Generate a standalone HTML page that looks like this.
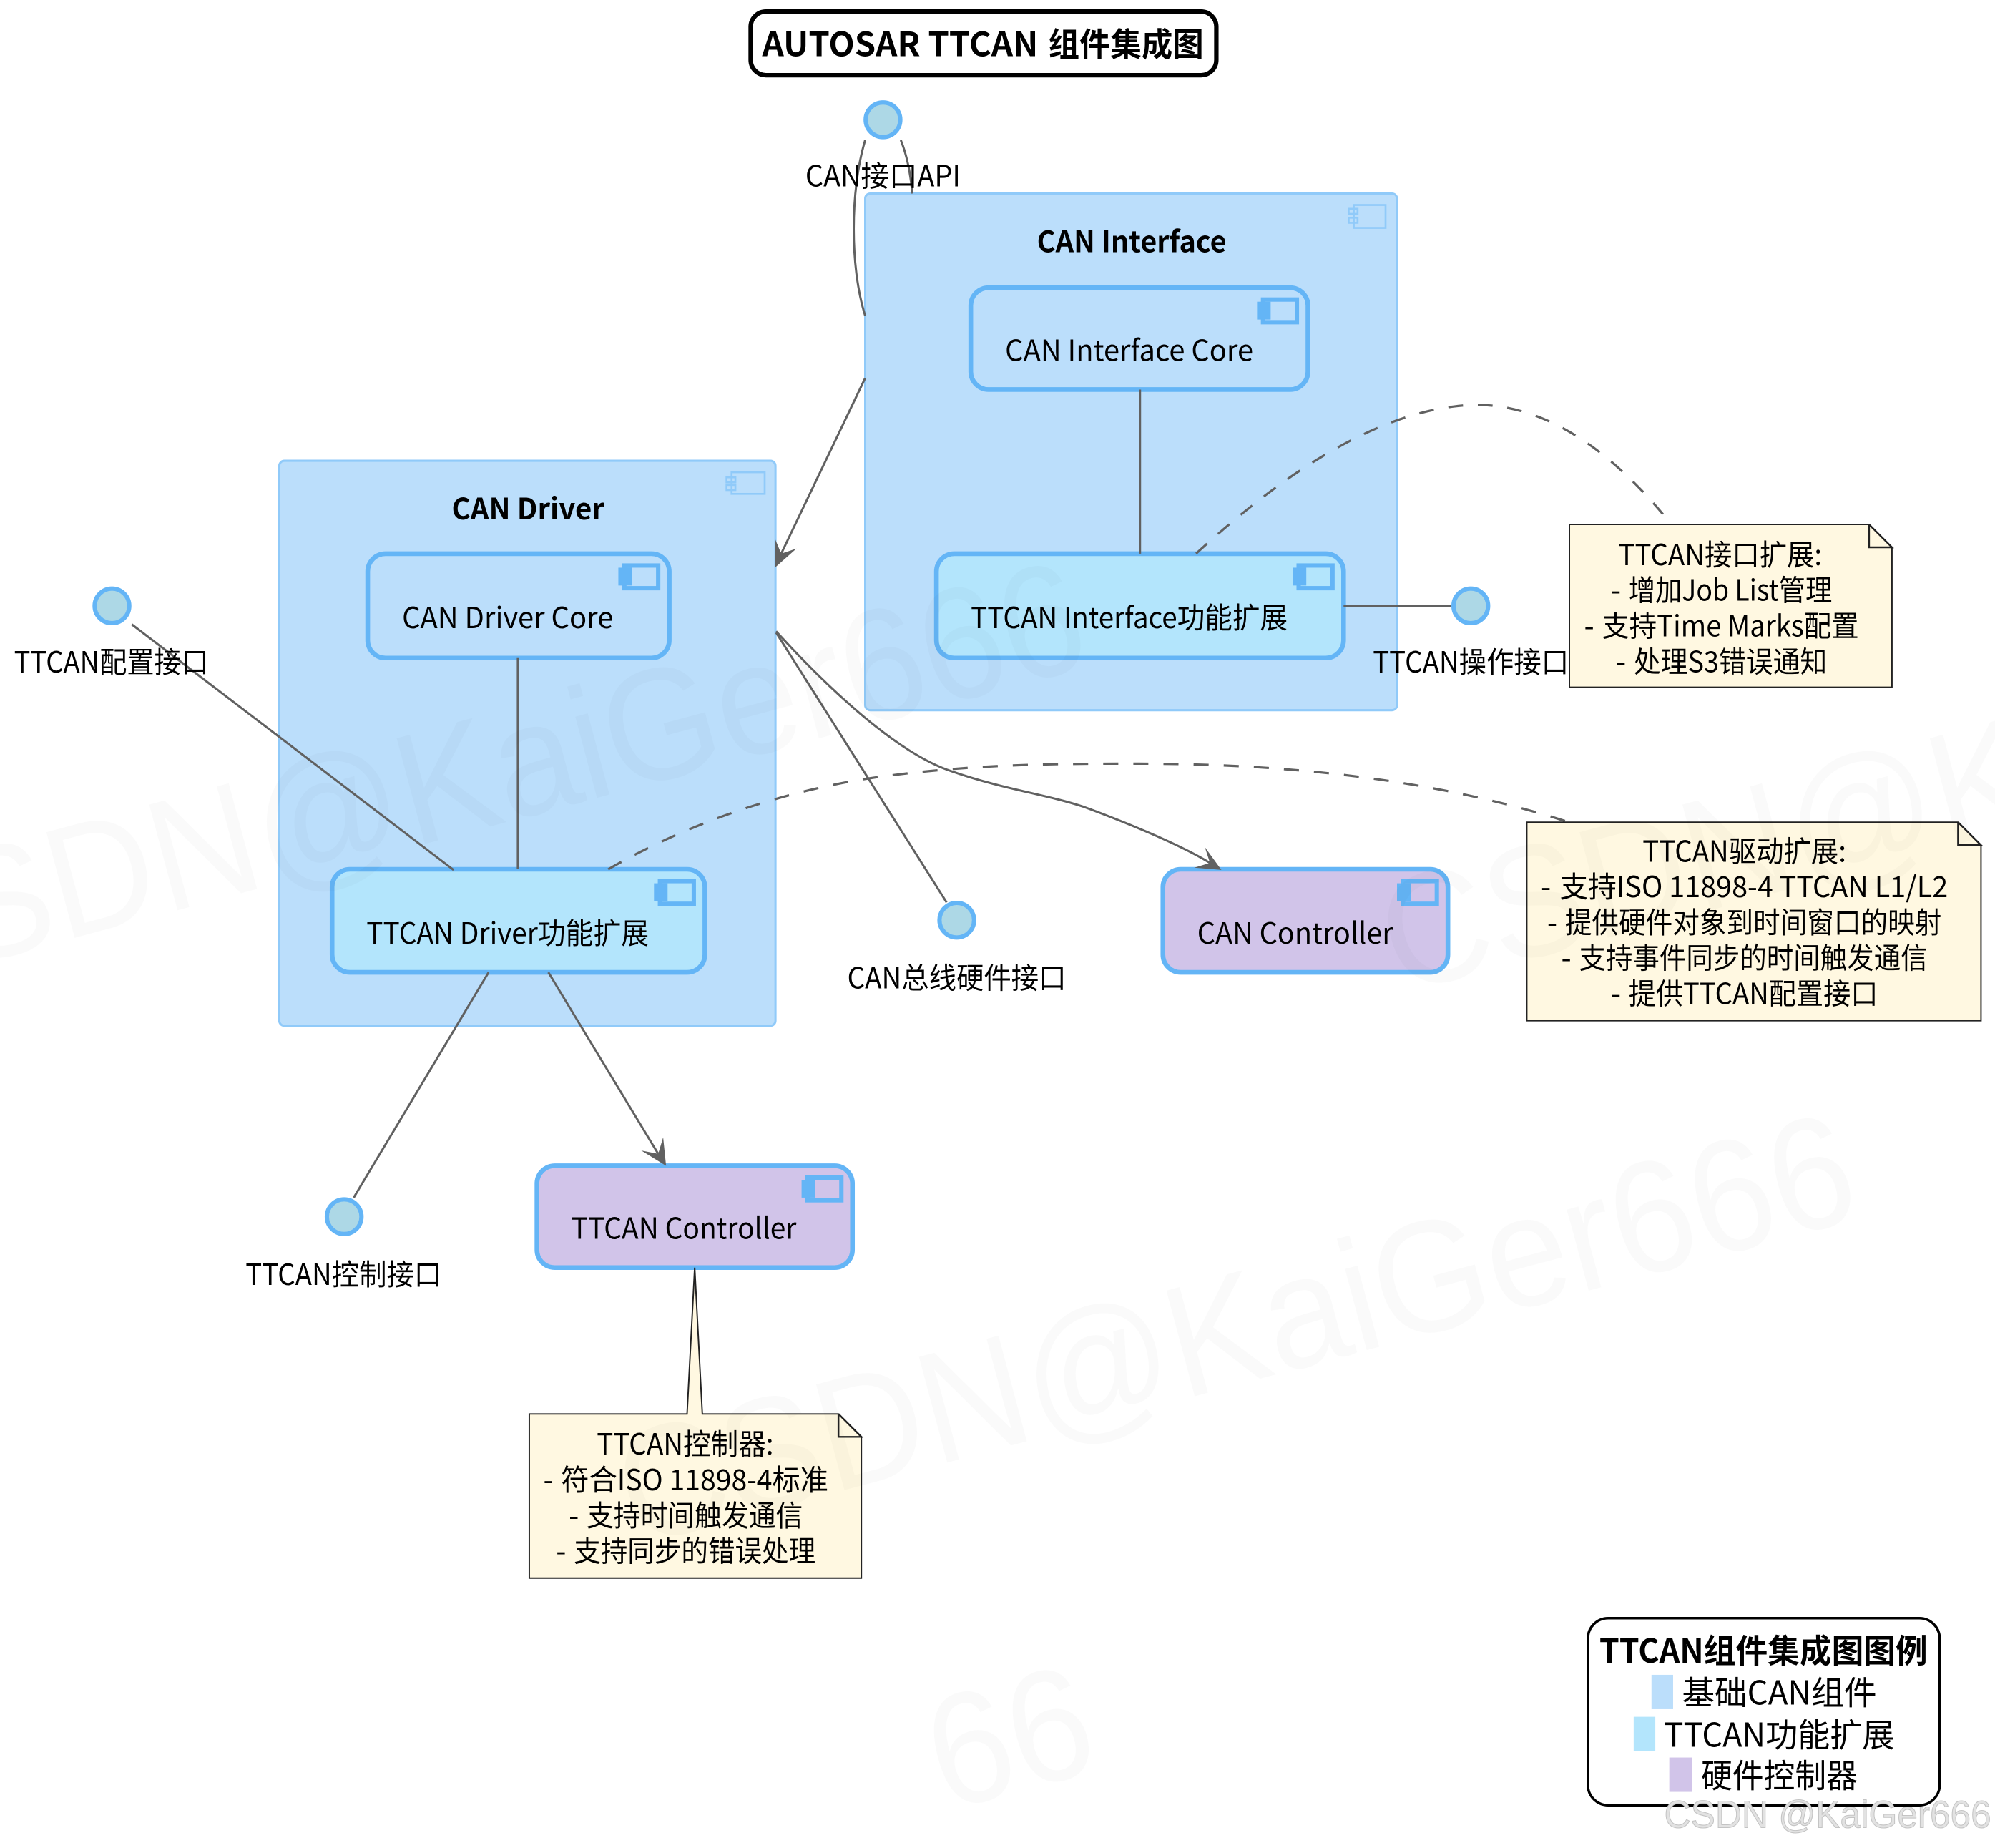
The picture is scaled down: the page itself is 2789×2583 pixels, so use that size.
<!DOCTYPE html>
<html><head><meta charset="utf-8"><style>
html,body{margin:0;padding:0;background:#fff;width:2789px;height:2583px;overflow:hidden}
svg{display:block}
text{font-family:"Noto Sans CJK SC","Liberation Sans",sans-serif;fill:#000;font-size:23px}
.b{font-weight:700}
.l{fill:none;stroke:#616161;stroke-width:1.7}
.d{fill:none;stroke:#616161;stroke-width:1.8;stroke-dasharray:12 12}
.h{fill:#616161;stroke:none}
.c{fill:#bbdefb;stroke:#90caf9;stroke-width:1.7}
.n{stroke:#64b5f6;stroke-width:3.7}
.i{fill:#add8e6;stroke:#64b5f6;stroke-width:3.4}
.t{fill:#fff8e1;stroke:#222;stroke-width:1.1}
.f{fill:none;stroke:#222;stroke-width:1.4}
.w{font-family:"Liberation Sans",sans-serif;font-size:125px;fill:#000;fill-opacity:.018}
</style></head><body>
<svg xmlns="http://www.w3.org/2000/svg" width="2789" height="2583" viewBox="0 0 1568 1452">
<rect width="1568" height="1452" fill="#fff"/>

<!-- clusters -->
<rect class="c" x="680" y="152" width="418" height="406" rx="4"/>
<g fill="none" stroke="#90caf9" stroke-width="1.5"><rect x="1064" y="161" width="25" height="18"/><rect x="1060" y="164" width="7" height="4"/><rect x="1060" y="171" width="7" height="4"/></g>
<text class="b" x="815" y="198" textLength="149" lengthAdjust="spacingAndGlyphs">CAN Interface</text>

<rect class="c" x="219.500" y="362" width="390" height="444" rx="4"/>
<g fill="none" stroke="#90caf9" stroke-width="1.5"><rect x="575" y="371" width="26" height="17"/><rect x="571" y="375" width="7" height="4"/><rect x="571" y="381" width="7" height="4"/></g>
<text class="b" x="355" y="408" textLength="120" lengthAdjust="spacingAndGlyphs">CAN Driver</text>

<!-- nodes -->
<rect class="n" fill="#bbdefb" x="763" y="226" width="265" height="80" rx="14"/>
<rect class="n" fill="#b3e5fc" x="736" y="435" width="320" height="82" rx="14"/>
<rect class="n" fill="#bbdefb" x="289" y="435" width="237" height="82" rx="14"/>
<rect class="n" fill="#b3e5fc" x="261" y="683" width="293" height="81" rx="14"/>
<rect class="n" fill="#d1c4e9" x="914" y="683" width="224" height="81" rx="14"/>
<rect class="n" fill="#d1c4e9" x="422" y="916" width="248" height="80" rx="14"/>

<!-- node icons -->
<g fill="none" stroke="#64b5f6" stroke-width="3.4">
<rect x="992.700" y="235.300" width="26.600" height="17.800"/>
<rect x="1020.700" y="444.300" width="26.600" height="17.800"/>
<rect x="490.700" y="444.300" width="26.600" height="17.800"/>
<rect x="518.700" y="692.300" width="26.600" height="17.800"/>
<rect x="1102.700" y="692.300" width="26.600" height="17.800"/>
<rect x="634.700" y="925.300" width="26.600" height="17.800"/>
</g>
<g fill="#64b5f6">
<rect x="988" y="237" width="10.700" height="14"/>
<rect x="1016" y="446" width="10.700" height="14"/>
<rect x="486" y="446" width="10.700" height="14"/>
<rect x="514" y="694" width="10.700" height="14"/>
<rect x="1098" y="694" width="10.700" height="14"/>
<rect x="630" y="927" width="10.700" height="14"/>
</g>

<text x="790" y="283.500" textLength="195" lengthAdjust="spacingAndGlyphs">CAN Interface Core</text>
<text x="763" y="493.500" textLength="249" lengthAdjust="spacingAndGlyphs">TTCAN Interface功能扩展</text>
<text x="316" y="493.500" textLength="166" lengthAdjust="spacingAndGlyphs">CAN Driver Core</text>
<text x="288" y="741.500" textLength="222" lengthAdjust="spacingAndGlyphs">TTCAN Driver功能扩展</text>
<text x="941" y="741.500" textLength="154" lengthAdjust="spacingAndGlyphs">CAN Controller</text>
<text x="449" y="973.500" textLength="177" lengthAdjust="spacingAndGlyphs">TTCAN Controller</text>

<!-- connectors -->
<path class="l" d="M680,110C668,150 668,210 680,248"/>
<path class="l" d="M708,110C714,125 716,140 717,152"/>
<path class="l" d="M680,297L614,435"/>
<path class="h" d="M609,446L609,423L614,435L626,431Z"/>
<path class="l" d="M896,306V435"/>
<path class="l" d="M1056,476H1142"/>
<path class="l" d="M407,517V683"/>
<path class="l" d="M103.500,490.500L356.500,683.500"/>
<path class="l" d="M384,764L278,941"/>
<path class="l" d="M431,764L517.300,906.600"/>
<path class="h" d="M523.500,916L504,904L517.300,906.600L521.200,893.700Z"/>
<path class="l" d="M610,497L744,709"/>
<path class="l" d="M610,496C650,540 705,592 748,606C788,620 822,624 852,634C890,648 930,665 951,678"/>
<path class="h" d="M960,683.500L938.600,681.700L951,678L947,665.600Z"/>
<path class="d" pathLength="444" d="M1307,404C1270,360 1220,318 1160,318C1080,320 1000,380 940,435"/>
<path class="d" pathLength="780" d="M1230,645C1120,610 1000,600 895,600C830,600 760,600 680,612C600,625 530,653 478,683"/>

<!-- interfaces -->
<circle class="i" cx="694" cy="94" r="13.600"/>
<circle class="i" cx="1156" cy="476" r="13.600"/>
<circle class="i" cx="88" cy="476" r="13.600"/>
<circle class="i" cx="270.500" cy="956" r="13.600"/>
<circle class="i" cx="752" cy="723" r="13.600"/>
<text x="633" y="146.500" textLength="122" lengthAdjust="spacingAndGlyphs">CAN接口API</text>
<text x="1079" y="528.500" textLength="154" lengthAdjust="spacingAndGlyphs">TTCAN操作接口</text>
<text x="11" y="528.500" textLength="153" lengthAdjust="spacingAndGlyphs">TTCAN配置接口</text>
<text x="193" y="1009.500" textLength="154" lengthAdjust="spacingAndGlyphs">TTCAN控制接口</text>
<text x="666" y="776.500" textLength="172" lengthAdjust="spacingAndGlyphs">CAN总线硬件接口</text>

<!-- notes -->
<path class="t" d="M1233.500,412H1469L1487,430V540H1233.500Z"/><path class="f" d="M1469,412V430H1487L1469,412"/>
<text x="1272" y="444" textLength="160" lengthAdjust="spacingAndGlyphs">TTCAN接口扩展:</text>
<text x="1266" y="472">-</text><text x="1280" y="472" textLength="160" lengthAdjust="spacingAndGlyphs">增加Job List管理</text>
<text x="1245" y="500">-</text><text x="1259" y="500" textLength="202" lengthAdjust="spacingAndGlyphs">支持Time Marks配置</text>
<text x="1270" y="528">-</text><text x="1284" y="528" textLength="152" lengthAdjust="spacingAndGlyphs">处理S3错误通知</text>

<path class="t" d="M1200,646H1539L1557,664V802H1200Z"/><path class="f" d="M1539,646V664H1557L1539,646"/>
<text x="1291" y="677" textLength="160" lengthAdjust="spacingAndGlyphs">TTCAN驱动扩展:</text>
<text x="1211" y="705">-</text><text x="1226" y="705" textLength="305" lengthAdjust="spacingAndGlyphs">支持ISO 11898-4 TTCAN L1/L2</text>
<text x="1216" y="733">-</text><text x="1230" y="733" textLength="296" lengthAdjust="spacingAndGlyphs">提供硬件对象到时间窗口的映射</text>
<text x="1227" y="761">-</text><text x="1241" y="761" textLength="274" lengthAdjust="spacingAndGlyphs">支持事件同步的时间触发通信</text>
<text x="1266" y="789">-</text><text x="1280" y="789" textLength="196" lengthAdjust="spacingAndGlyphs">提供TTCAN配置接口</text>

<path class="t" d="M416,1111H540L546,996L552,1111H659L677,1129V1240H416Z"/><path class="f" d="M659,1111V1129H677L659,1111"/>
<text x="469" y="1143" textLength="139" lengthAdjust="spacingAndGlyphs">TTCAN控制器:</text>
<text x="427" y="1171">-</text><text x="441" y="1171" textLength="210" lengthAdjust="spacingAndGlyphs">符合ISO 11898-4标准</text>
<text x="447" y="1199">-</text><text x="461" y="1199" textLength="170" lengthAdjust="spacingAndGlyphs">支持时间触发通信</text>
<text x="437" y="1227">-</text><text x="451" y="1227" textLength="190" lengthAdjust="spacingAndGlyphs">支持同步的错误处理</text>

<!-- title -->
<rect x="590" y="9" width="366" height="50" rx="12" fill="#fff" stroke="#000" stroke-width="3.500"/>
<text class="b" x="599" y="44" style="font-size:26px" textLength="217" lengthAdjust="spacingAndGlyphs">AUTOSAR TTCAN</text>
<text class="b" x="824" y="44" style="font-size:26px" textLength="122" lengthAdjust="spacingAndGlyphs">组件集成图</text>

<!-- legend -->
<rect x="1248" y="1271.500" width="276.500" height="147" rx="16" fill="#fff" stroke="#000" stroke-width="2"/>
<text class="b" x="1257" y="1306.500" style="font-size:26px" textLength="258" lengthAdjust="spacingAndGlyphs">TTCAN组件集成图图例</text>
<rect x="1298" y="1316" width="17" height="27" fill="#bbdefb"/>
<text x="1322" y="1339.500" style="font-size:26px" textLength="153" lengthAdjust="spacingAndGlyphs">基础CAN组件</text>
<rect x="1284" y="1349" width="17" height="27" fill="#b3e5fc"/>
<text x="1308" y="1372.500" style="font-size:26px" textLength="181" lengthAdjust="spacingAndGlyphs">TTCAN功能扩展</text>
<rect x="1312" y="1381" width="18" height="27" fill="#d1c4e9"/>
<text x="1337" y="1404.500" style="font-size:26px" textLength="123" lengthAdjust="spacingAndGlyphs">硬件控制器</text>

<!-- watermarks -->
<text class="w" transform="translate(-106,781) rotate(-15)" textLength="1000" lengthAdjust="spacingAndGlyphs">CSDN@KaiGer666</text>
<text class="w" transform="translate(499,1215) rotate(-15)" textLength="1000" lengthAdjust="spacingAndGlyphs">CSDN@KaiGer666</text>
<text class="w" transform="translate(1099,781) rotate(-15)" textLength="1000" lengthAdjust="spacingAndGlyphs">CSDN@KaiGer666</text>
<text class="w" transform="translate(742.400,1423.200) rotate(-15)" textLength="64.400" lengthAdjust="spacingAndGlyphs">6</text>
<text class="w" transform="translate(804.200,1406.600) rotate(-15)" textLength="64.400" lengthAdjust="spacingAndGlyphs">6</text>
<text x="1308" y="1436" textLength="257" lengthAdjust="spacingAndGlyphs" style="font-family:'Liberation Sans',sans-serif;font-size:30px;fill:#e2e2e2;stroke:#c4c4c4;stroke-width:.6">CSDN @KaiGer666</text>
</svg>
</body></html>
